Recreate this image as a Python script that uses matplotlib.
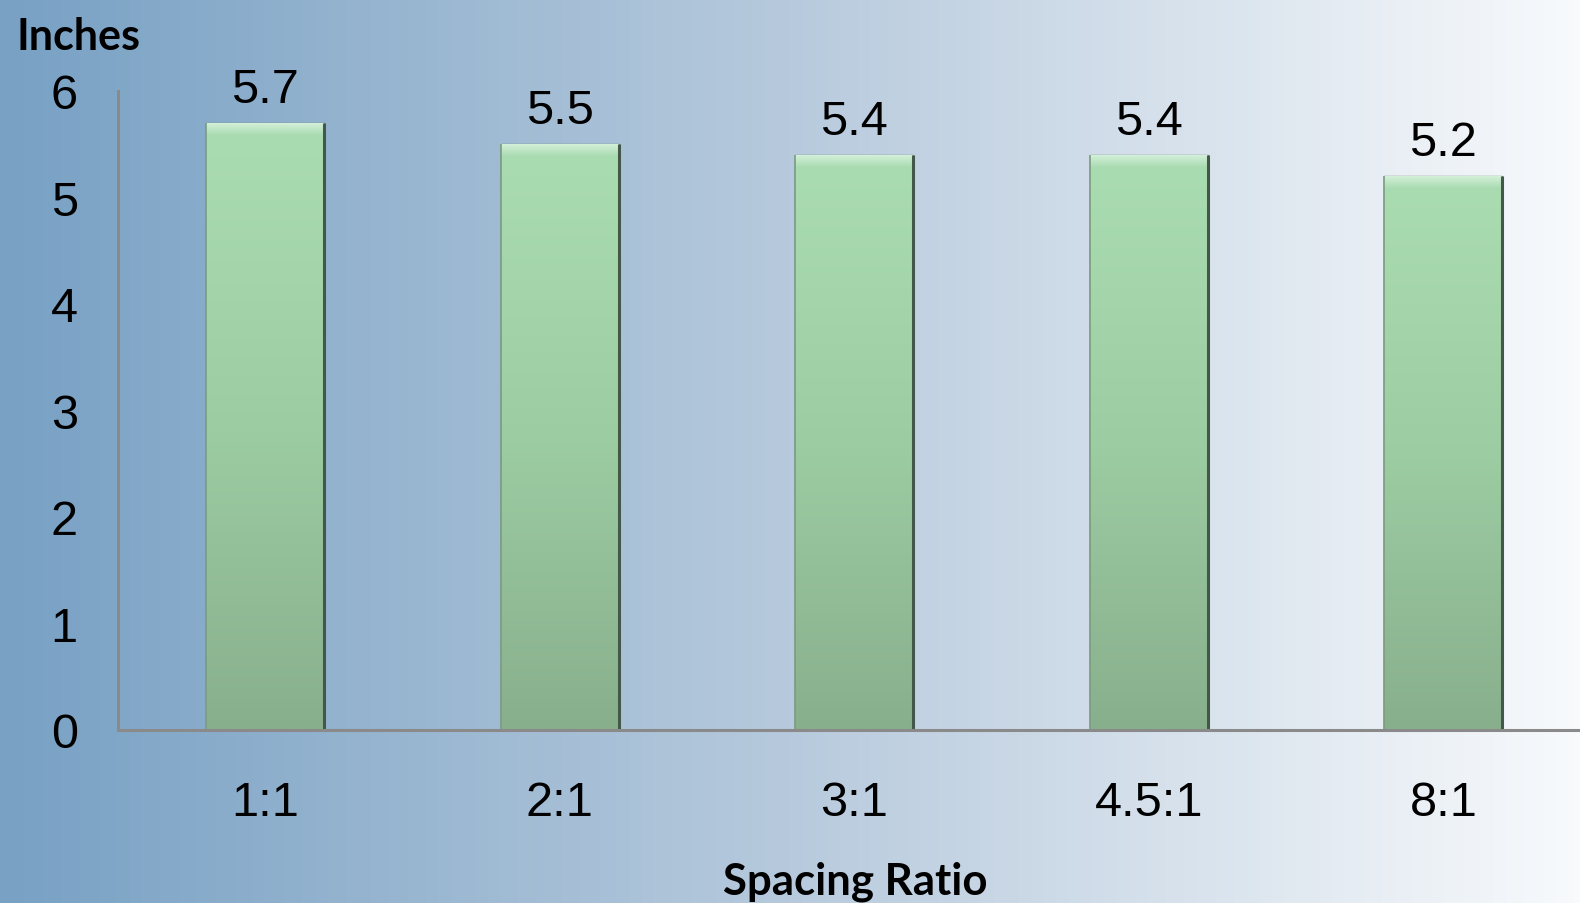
import numpy as np
import matplotlib.pyplot as plt
from matplotlib.colors import LinearSegmentedColormap

ratios = ['1:1', '2:1', '3:1', '4.5:1', '8:1']
inches = [5.7, 5.5, 5.4, 5.4, 5.2]
yticks = [0, 1, 2, 3, 4, 5, 6]

fig = plt.figure(figsize=(15.8, 9.04), dpi=100)

# background: horizontal blue -> white gradient
bg = fig.add_axes([0, 0, 1, 1], zorder=0)
bg_cmap = LinearSegmentedColormap.from_list('bg', ['#78a1c4', '#b7cadd', '#f8fafc'])
bg.imshow(np.linspace(0, 1, 512).reshape(1, -1), cmap=bg_cmap, aspect='auto',
          extent=[0, 1, 0, 1])
bg.axis('off')

ax = fig.add_axes([0.0747, 0.1914, 0.932, 0.7069], zorder=1)
ax.patch.set_alpha(0)

x = np.arange(len(ratios))
bars = ax.bar(x, inches, width=0.4, color='#9ccca2', edgecolor='#6f8f73',
              linewidth=1.0, zorder=2)

# green vertical gradient inside each bar, with a light bevel on top
bar_cmap = LinearSegmentedColormap.from_list('bar', ['#88af8c', '#9ccca2', '#aadcb2'])
bevel_cmap = LinearSegmentedColormap.from_list('bevel', ['#aadcb2', '#d4f0d9'])
grad = np.linspace(0, 1, 256).reshape(-1, 1)
bevel = 0.11
for b, v in zip(bars, inches):
    x0 = b.get_x()
    w = b.get_width()
    im = ax.imshow(grad, cmap=bar_cmap, aspect='auto', origin='lower',
                   extent=[x0, x0 + w, 0, v - bevel], zorder=2.5)
    im.set_clip_path(b)
    im2 = ax.imshow(grad, cmap=bevel_cmap, aspect='auto', origin='lower',
                    extent=[x0, x0 + w, v - bevel, v], zorder=2.6)
    im2.set_clip_path(b)
    ax.vlines(x0 + w, 0, v, color='#44584a', linewidth=2.2, zorder=3)
    ax.vlines(x0, 0, v, color='#7c9c80', linewidth=1.2, zorder=3)
    ax.text(x0 + w / 2, v + 0.2, f'{v}', ha='center', va='baseline',
            fontsize=35, family='Liberation Sans', color='black', zorder=4)

ax.set_xlim(-0.5, len(ratios) - 0.5)
ax.set_ylim(0, 6)
ax.set_xticks(x)
ax.set_xticklabels(ratios, fontsize=35, family='Liberation Sans')
ax.set_yticks(yticks)
ax.set_yticklabels([str(t) for t in yticks], fontsize=35, family='Liberation Sans')
ax.tick_params(axis='x', length=0, pad=36)
ax.tick_params(axis='y', length=0, pad=29)

for s in ['top', 'right']:
    ax.spines[s].set_visible(False)
for s in ['left', 'bottom']:
    ax.spines[s].set_color('#8a8a8a')
    ax.spines[s].set_linewidth(2.2)
    ax.spines[s].set_zorder(5)

fig.text(17 / 1580, 1 - 50 / 904, 'Inches', fontsize=31, fontweight='bold',
         family='Lato', ha='left', va='baseline')
fig.text(0.5415, 1 - 895 / 904, 'Spacing Ratio', fontsize=31.5, fontweight='bold',
         family='Lato', ha='center', va='baseline')

fig.savefig('out.png', dpi=100)
